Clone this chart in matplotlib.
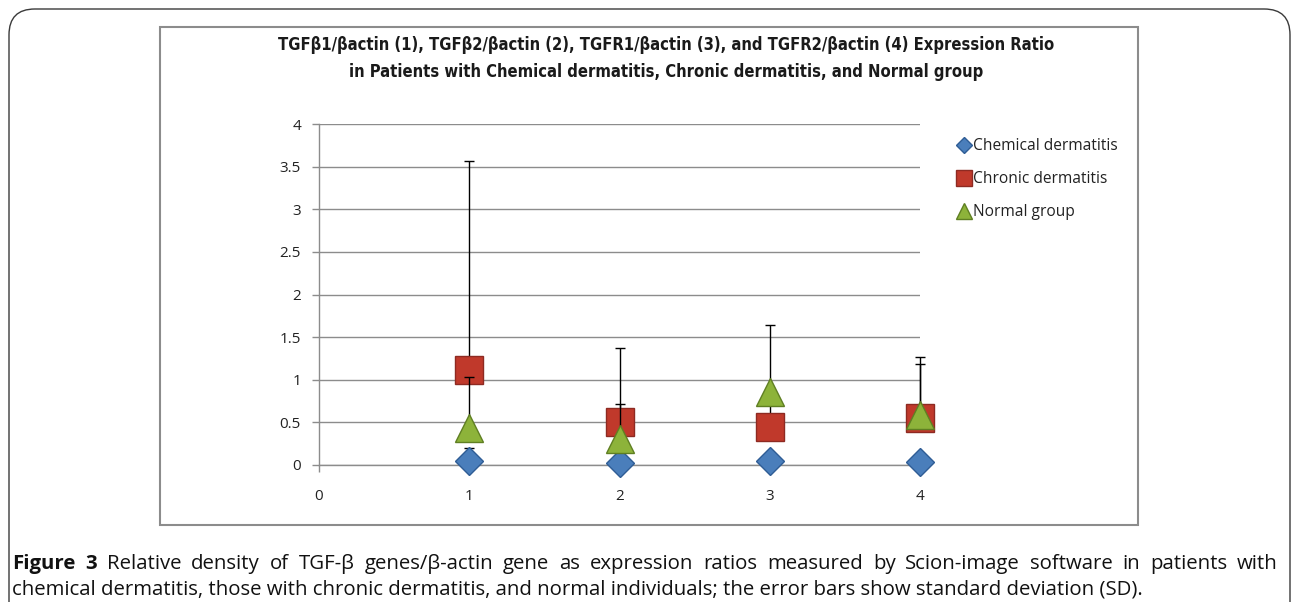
import matplotlib
matplotlib.use("Agg")
import matplotlib.pyplot as plt
from matplotlib.patches import FancyBboxPatch, Rectangle
import numpy as np

# ---- data ----
groups = [1, 2, 3, 4]
series_names = ["Chemical dermatitis", "Chronic dermatitis", "Normal group"]
chemical_mean = [0.05, 0.02, 0.05, 0.04]
chemical_sd = [0.15, 0.02, 0.03, 0.02]
chronic_mean = [1.12, 0.51, 0.44, 0.55]
chronic_sd = [2.45, 0.86, 0.40, 0.72]
normal_mean = [0.43, 0.31, 0.86, 0.59]
normal_sd = [0.60, 0.41, 0.78, 0.60]
y_ticks = [0, 0.5, 1, 1.5, 2, 2.5, 3, 3.5, 4]
y_tick_labels = ["0", "0.5", "1", "1.5", "2", "2.5", "3", "3.5", "4"]
x_ticks = [0, 1, 2, 3, 4]
title_lines = ["TGFβ1/βactin (1), TGFβ2/βactin (2), TGFR1/βactin (3), and TGFR2/βactin (4) Expression Ratio",
               "in Patients with Chemical dermatitis, Chronic dermatitis, and Normal group"]
caption_line1 = ("Figure 3", "Relative density of TGF-β genes/β-actin gene as expression ratios measured by Scion-image software in patients with")
caption_line2 = "chemical dermatitis, those with chronic dermatitis, and normal individuals; the error bars show standard deviation (SD)."

W, H = 1292, 602
fig = plt.figure(figsize=(W / 100, H / 100), dpi=100)
fig.patch.set_facecolor("white")

def fx(px):
    return px / W

def fy(py):
    return 1 - py / H

# outer rounded frame
frame = FancyBboxPatch((fx(9), fy(640)), fx(1281), (640 - 9) / H,
                       boxstyle="round,pad=0,rounding_size=0.02",
                       transform=fig.transFigure, fill=False,
                       edgecolor="#3a3a3a", linewidth=1.0, mutation_aspect=W / H)
fig.patches.append(frame)

# chart box
box = Rectangle((fx(160), fy(525)), fx(1138 - 160), (525 - 27) / H,
                transform=fig.transFigure, fill=False, edgecolor="#8c8c8c", linewidth=1.5)
fig.patches.append(box)

ax = fig.add_axes([fx(319), fy(465), fx(920 - 319), (465 - 124) / H])
ax.set_xlim(0, 4)
ax.set_ylim(0, 4)
ax.set_yticks(y_ticks)
ax.set_yticklabels(y_tick_labels)
ax.set_xticks(x_ticks)
ax.grid(axis="y", color="#8c8c8c", linewidth=1.0)
ax.set_axisbelow(True)
for s in ["top", "right"]:
    ax.spines[s].set_visible(False)
for s in ["left", "bottom"]:
    ax.spines[s].set_color("#8c8c8c")
    ax.spines[s].set_linewidth(1.0)
ax.tick_params(axis="both", colors="#8c8c8c", length=5, width=1.0,
               labelcolor="#222222", labelsize=11)
ax.tick_params(axis="x", pad=12)
ax.tick_params(axis="y", pad=8)
for lab in ax.get_xticklabels() + ax.get_yticklabels():
    lab.set_family(["Open Sans", "DejaVu Sans"])

g = np.array(groups)
specs = [
    (chemical_mean, chemical_sd, "D", 14, "#4a7ebb", "#2f5d95"),
    (chronic_mean, chronic_sd, "s", 20, "#c0392b", "#8e2a22"),
    (normal_mean, normal_sd, "^", 20, "#8db33a", "#5f7f22"),
]
handles = []
for i, (m, sd, mk, ms, fc, ec) in enumerate(specs):
    m = np.array(m); sd = np.array(sd)
    ax.errorbar(g, m, yerr=[np.zeros_like(sd), sd], fmt="none", ecolor="black",
                elinewidth=1.0, capsize=3.5, capthick=1.0, zorder=2 + 2 * i, clip_on=False)
    h, = ax.plot(g, m, linestyle="none", marker=mk, markersize=ms, markerfacecolor=fc,
                 markeredgecolor=ec, markeredgewidth=1.0, zorder=3 + 2 * i, clip_on=False,
                 label=series_names[i])
    handles.append(h)

leg = fig.legend(handles=handles, loc="upper left", bbox_to_anchor=(fx(945), fy(124)),
                 frameon=False, markerscale=0.6, handlelength=0.6, handletextpad=0.3,
                 labelspacing=1.1, prop={"family": ["Open Sans", "DejaVu Sans"], "size": 11.2})
for t in leg.get_texts():
    t.set_color("#222222")

# title
for k, line in enumerate(title_lines):
    fig.text(fx(666), fy(45 + 27 * k), line, ha="center", va="center",
             family="DejaVu Sans", fontstretch="condensed", fontweight="bold",
             fontsize=11.9, color="#1a1a1a")

# caption, line 1 justified
fig.canvas.draw()
renderer = fig.canvas.get_renderer()
cap_font = ["Open Sans", "DejaVu Sans"]
cap_size = 14.7
words = [(w, "bold") for w in caption_line1[0].split()] + [(w, "normal") for w in caption_line1[1].split()]
texts = []
total = 0
for w, wt in words:
    t = fig.text(0, 0, w, family=cap_font, fontweight=wt, fontsize=cap_size, color="#111111",
                 va="baseline", ha="left")
    bb = t.get_window_extent(renderer)
    texts.append((t, bb.width))
    total += bb.width
x0, x1 = 12, 1278
gap = (x1 - x0 - total) / (len(words) - 1)
x = x0
for t, wd in texts:
    t.set_position((fx(x), fy(569)))
    x += wd + gap
fig.text(fx(12), fy(594), caption_line2, family=cap_font, fontsize=cap_size, color="#111111",
         va="baseline", ha="left")

fig.savefig("out.png", dpi=100)
